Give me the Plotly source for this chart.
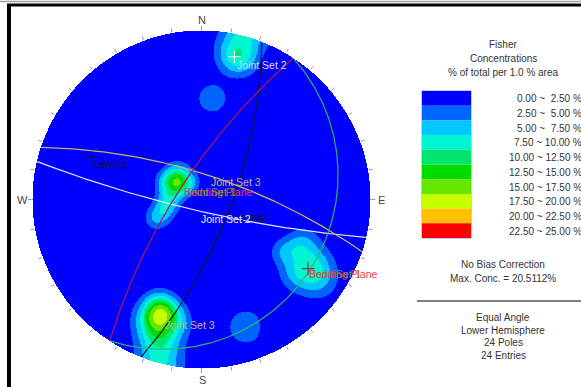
import numpy as np
import plotly.graph_objects as go

W, H = 581, 387
CX, CY, RPX = 201.5, 199.5, 168.5   # net centre / radius in pixels

# ---------------- data ----------------
# poles (trend, plunge) in degrees, 24 poles
pole_trend = [13, 15, 6, 161,
              318.4, 324.5, 296.9, 298.1, 306, 274.5,
              256.5, 247.4,
              201.8, 198.9, 203.5, 198.7, 192.3, 198.4, 194.2,
              122.2, 113.2, 119, 128.6, 124.6]
pole_plunge = [7, 8, 28, 13,
               66.3, 75.5, 64.1, 73.5, 68.8, 68.8,
               65.6, 58.1,
               21.5, 21.0, 15.0, 16.3, 17.1, 9.0, 3.9,
               29.3, 23.5, 15.3, 18.6, 9.9]

# mean planes (dip direction, dip)
plane_names = ["Lereng", "Joint Set 2", "Joint Set 3", "Bedding Plane", "Joint Set 1"]
plane_dipdir = [111, 193, 18, 303, 123]
plane_dip = [70, 82, 73, 74, 15]
plane_colors = ["#141428", "#e6e6ff", "#c8b464", "#b01850", "#30b46a"]
plane_pole_marker = [True, True, False, True, False]
marker_colors = ["#141428", "#f0f0ff", None, "#8c3232", None]

# legend bins
bin_labels = ["0.00 ~  2.50 %", "2.50 ~  5.00 %", "5.00 ~  7.50 %", "7.50 ~ 10.00 %",
              "10.00 ~ 12.50 %", "12.50 ~ 15.00 %", "15.00 ~ 17.50 %", "17.50 ~ 20.00 %",
              "20.00 ~ 22.50 %", "22.50 ~ 25.00 %"]
bin_colors = ["#0000ff", "#0064ff", "#00c8ff", "#00f5d2", "#00e66e",
              "#00dc00", "#64e600", "#c8ff00", "#ffc000", "#ff0000"]
bin_step = 2.5
fisher_k = 110.0
pole_weight = 4.9

# ---------------- density grid ----------------
n = 341
g = np.linspace(-1, 1, n)
X, Y = np.meshgrid(g, g)
R2 = X**2 + Y**2
ge = 2 * X / (1 + R2)
gn = 2 * Y / (1 + R2)
gd = (1 - R2) / (1 + R2)
dens = np.zeros_like(X)
for tr, pl in zip(pole_trend, pole_plunge):
    t, p = np.radians(tr), np.radians(pl)
    pe, pn, pd = np.cos(p) * np.sin(t), np.cos(p) * np.cos(t), np.sin(p)
    dot = np.abs(ge * pe + gn * pn + gd * pd)
    dens += pole_weight * np.exp(fisher_k * (dot - 1))
lvl = np.clip(np.floor(dens / bin_step), 0, len(bin_colors) - 1)
lvl[R2 > 1] = np.nan

cs = []
nb = len(bin_colors)
for i, c in enumerate(bin_colors):
    cs.append([i / nb, c])
    cs.append([(i + 1) / nb, c])

fig = go.Figure()
fig.add_trace(go.Heatmap(x=g, y=g, z=lvl, colorscale=cs, zmin=-0.5, zmax=nb - 0.5,
                         showscale=False, hoverinfo="skip", zsmooth=False))

# ---------------- tick marks ----------------
tx, ty = [], []
for a in range(0, 360, 10):
    ar = np.radians(a)
    for r in (1.008, 1.03):
        tx.append(r * np.sin(ar)); ty.append(r * np.cos(ar))
    tx.append(None); ty.append(None)
fig.add_trace(go.Scatter(x=tx, y=ty, mode="lines", line=dict(color="#8c8ce6", width=1),
                         hoverinfo="skip", showlegend=False))

# ---------------- great circles ----------------
def proj(e, nn, d):
    return e / (1 + d), nn / (1 + d)

for name, dd, dip, col in zip(plane_names, plane_dipdir, plane_dip, plane_colors):
    s = np.radians(dd - 90)
    a, b = np.radians(dd), np.radians(dip)
    t = np.radians(np.linspace(0, 180, 361))
    e = np.cos(t) * np.sin(s) + np.sin(t) * np.sin(a) * np.cos(b)
    nn = np.cos(t) * np.cos(s) + np.sin(t) * np.cos(a) * np.cos(b)
    d = np.sin(t) * np.sin(b)
    x, y = proj(e, nn, d)
    fig.add_trace(go.Scatter(x=x, y=y, mode="lines", line=dict(color=col, width=1.2),
                             hoverinfo="skip", showlegend=False))

# pole markers
for dd, dip, show, mc in zip(plane_dipdir, plane_dip, plane_pole_marker, marker_colors):
    if not show:
        continue
    tr, pl = np.radians(dd + 180), np.radians(90 - dip)
    e, nn, d = np.cos(pl) * np.sin(tr), np.cos(pl) * np.cos(tr), np.sin(pl)
    x, y = proj(e, nn, d)
    fig.add_trace(go.Scatter(x=[x], y=[y], mode="markers",
                             marker=dict(symbol="cross-thin", size=9, line=dict(color=mc, width=1.1)),
                             hoverinfo="skip", showlegend=False))

# ---------------- layout helpers ----------------
def px(xp):
    return xp / W

def py(yp):
    return 1 - yp / H

FONT = "Liberation Sans, Arial, sans-serif"
ann = []

def text(t, x, y, color="#333333", size=10, xanchor="center"):
    ann.append(dict(text=t, x=px(x), y=py(y), xref="paper", yref="paper", showarrow=False,
                    xanchor=xanchor, yanchor="middle", font=dict(family=FONT, size=size, color=color)))

# compass letters
text("N", 202, 20.5, "#444444", 11)
text("S", 202, 380, "#444444", 11)
text("W", 22, 200, "#444444", 11)
text("E", 381.5, 200, "#444444", 11)

# plot labels
plot_labels = [
    ("Joint Set 2", "#dcdcf5", 235, 65),
    ("Lereng", "#141428", 92, 163.5),
    ("Joint Set 3", "#c8b478", 209, 182),
    ("Joint Set 1", "#30c040", 184, 192),
    ("Bedding Plane", "#f03c46", 182, 192),
    ("Lereng", "#141428", 231, 217),
    ("Joint Set 2", "#e6e6ff", 199, 219),
    ("Joint Set 1", "#30c040", 309, 274),
    ("Bedding Plane", "#f03c46", 307, 274),
    ("Joint Set 3", "#c8b478", 163, 325),
]
for t, c, x, y in plot_labels:
    text(t, x, y, c, 10.5, "left")

# legend header
text("Fisher", 503, 45)
text("Concentrations", 503, 59)
text("% of total per 1.0 % area", 503, 72)

shapes = []
top, rowh = 91, 14.7
for i, (lab, col) in enumerate(zip(bin_labels, bin_colors)):
    y0 = top + i * rowh
    shapes.append(dict(type="rect", xref="paper", yref="paper", x0=px(422), x1=px(471),
                       y0=py(y0), y1=py(y0 + rowh), fillcolor=col, line=dict(width=0)))
    text(lab, 584, y0 + rowh / 2 + 0.5, "#333333", 10, "right")
shapes.append(dict(type="rect", xref="paper", yref="paper", x0=px(421.5), x1=px(471.5),
                   y0=py(top - 0.5), y1=py(top + 10 * rowh + 0.5), line=dict(color="#c8c8ff", width=1)))

text("No Bias Correction", 503, 264)
text("Max. Conc. = 20.5112%", 503, 278)
shapes.append(dict(type="line", xref="paper", yref="paper", x0=px(417), x1=px(581),
                   y0=py(301), y1=py(301), line=dict(color="#555555", width=1.5)))
text("Equal Angle", 503, 317)
text("Lower Hemisphere", 503, 330)
text("24 Poles", 503, 342)
text("24 Entries", 503, 355)

# frame
shapes.append(dict(type="line", xref="paper", yref="paper", x0=0, x1=1, y0=py(1.5), y1=py(1.5),
                   line=dict(color="#a0a0a0", width=1.5)))
shapes.append(dict(type="line", xref="paper", yref="paper", x0=px(7), x1=1, y0=py(5), y1=py(5),
                   line=dict(color="#000000", width=3)))
shapes.append(dict(type="line", xref="paper", yref="paper", x0=px(9), x1=px(9), y0=py(4), y1=0,
                   line=dict(color="#000000", width=4)))

fig.update_layout(
    width=W, height=H, autosize=False,
    margin=dict(l=0, r=0, t=0, b=0, pad=0),
    paper_bgcolor="white", plot_bgcolor="white",
    xaxis=dict(range=[-CX / RPX, (W - CX) / RPX], visible=False, fixedrange=True),
    yaxis=dict(range=[-(H - CY) / RPX, CY / RPX], visible=False, fixedrange=True),
    annotations=ann, shapes=shapes, showlegend=False,
)
fig.write_html("out.html", config={"displayModeBar": False},
               post_script="document.body.style.margin='0';")
